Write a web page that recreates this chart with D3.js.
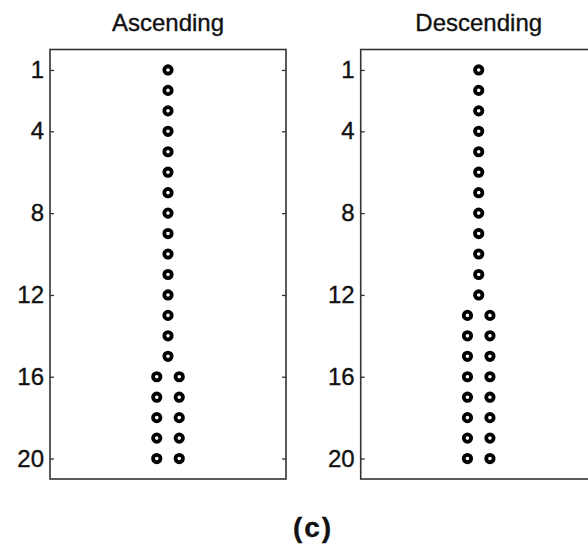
<!DOCTYPE html>
<html lang="en">
<head>
    <meta charset="UTF-8">
    <title>Ascending / Descending</title>
    <script src="https://cdn.jsdelivr.net/npm/d3@7"></script>
    <style>
        body { margin: 0; background: #fff; }
        text { font-family: "Liberation Sans", Arial, sans-serif; fill: #111; stroke: #111; stroke-width: 0.35px; }
        .box { fill: none; stroke: #333; stroke-width: 1.6px; }
        .tick line { stroke: #333; stroke-width: 1.3px; }
        .dot { fill: none; stroke: #000; stroke-width: 3.8px; }
    </style>
</head>
<body>
<svg id="chart" width="588" height="552"></svg>

<script>
    // rows 1..20, how many circles sit on each row
    let rows = d3.range(1, 21)
    let ascendingCounts  = [1,1,1,1,1,1,1,1,1,1,1,1,1,1,1,2,2,2,2,2]
    let descendingCounts = [1,1,1,1,1,1,1,1,1,1,1,1,2,2,2,2,2,2,2,2]
    let tickValues = [1, 4, 8, 12, 16, 20]
    let panelTitles = ["Ascending", "Descending"]
    let panelCounts = [ascendingCounts, descendingCounts]

    let svg = d3.select('#chart')
    let plotTop = 49.5, plotBottom = 479, plotWidth = 236
    let panelLefts = [50, 360.7]

    let y = d3.scaleLinear().domain([0, 21]).range([plotTop, plotBottom])
    let x = d3.scaleLinear().domain([-10.5, 10.5]).range([0, plotWidth])

    // circles on rows with two points sit at -1 / +1, single ones at 0
    function offsets(n) {
        return n === 1 ? [0] : [-1, 1]
    }

    panelTitles.forEach((title, i) => {
        let g = svg.append('g').attr('transform', `translate(${panelLefts[i]},0)`)

        g.append('text')
            .attr('x', x(0))
            .attr('y', 31)
            .attr('text-anchor', 'middle')
            .style('font-size', '24px')
            .text(title)

        g.append('g')
            .call(d3.axisLeft(y).tickValues(tickValues).tickSizeInner(-4).tickSizeOuter(0).tickPadding(6))
            .call(a => a.select('.domain').remove())
            .call(a => a.selectAll('text').style('font-size', '24px').attr('fill', '#111'))

        g.append('g')
            .attr('transform', `translate(${plotWidth},0)`)
            .call(d3.axisRight(y).tickValues(tickValues).tickSizeInner(-4).tickSizeOuter(0).tickFormat(''))
            .call(a => a.select('.domain').remove())

        g.append('rect')
            .attr('class', 'box')
            .attr('x', 0)
            .attr('y', plotTop)
            .attr('width', plotWidth)
            .attr('height', plotBottom - plotTop)

        let pts = []
        rows.forEach((r, k) => {
            offsets(panelCounts[i][k]).forEach(o => pts.push({ row: r, off: o }))
        })

        g.selectAll('circle')
            .data(pts)
            .enter().append('circle')
            .attr('class', 'dot')
            .attr('cx', d => x(d.off))
            .attr('cy', d => y(d.row))
            .attr('r', 3.7)
    })

    svg.append('text')
        .attr('x', 313)
        .attr('y', 537)
        .attr('text-anchor', 'middle')
        .style('font-size', '28px')
        .style('font-weight', 'bold')
        .style('letter-spacing', '2px')
        .text('(c)')
</script>
</body>
</html>
